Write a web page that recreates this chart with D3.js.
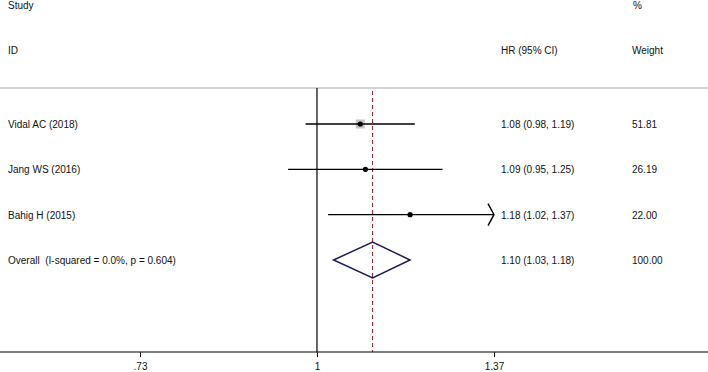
<!DOCTYPE html>
<html>
<head>
<meta charset="utf-8">
<script src="https://cdn.jsdelivr.net/npm/d3@7"></script>
<style>
  body { margin: 0; background: #fff; }
  text { font-family: Arial, "Liberation Sans", sans-serif; font-size: 10px; fill: #111; white-space: pre; }
</style>
</head>
<body>
<div id="chart"></div>
<script>
// study data
var studies = ["Vidal AC (2018)", "Jang WS (2016)", "Bahig H (2015)"];
var hr = [1.08, 1.09, 1.18];
var lower = [0.98, 0.95, 1.02];
var upper = [1.19, 1.25, 1.37];
var weights = ["51.81", "26.19", "22.00"];
var hrLabels = ["1.08 (0.98, 1.19)", "1.09 (0.95, 1.25)", "1.18 (1.02, 1.37)"];

var overallLabel = "Overall  (I-squared = 0.0%, p = 0.604)";
var overall = { est: 1.104, lo: 1.03, hi: 1.18, label: "1.10 (1.03, 1.18)", weight: "100.00" };

var tickValues = [0.73, 1, 1.37];
var tickLabels = [".73", "1", "1.37"];

var W = 708, H = 372;
var svg = d3.select("#chart").append("svg")
  .attr("width", W).attr("height", H);

// log scale, symmetric around 1
var x = d3.scaleLog().domain([0.73, 1.37]).range([140, 494]);
var y = d3.scaleLinear().domain([0, 3]).range([124, 260]);
var axisY = 352, topY = 88;

// header
svg.append("text").attr("x", 8).attr("y", 9).text("Study");
svg.append("text").attr("x", 8).attr("y", 54).text("ID");
svg.append("text").attr("x", 501).attr("y", 54).text("HR (95% CI)");
svg.append("text").attr("x", 633).attr("y", 9).text("%");
svg.append("text").attr("x", 632).attr("y", 54).text("Weight");

svg.append("line")
  .attr("x1", 0).attr("x2", W).attr("y1", topY).attr("y2", topY)
  .style("stroke", "#aaa").style("stroke-width", 1);

// null line
svg.append("line")
  .attr("x1", x(1)).attr("x2", x(1)).attr("y1", topY).attr("y2", axisY)
  .style("stroke", "#000").style("stroke-width", 1.2);

// overall dashed line
svg.append("line")
  .attr("x1", x(overall.est)).attr("x2", x(overall.est)).attr("y1", topY + 3).attr("y2", axisY)
  .style("stroke", "#8b1a2b").style("stroke-width", 1)
  .style("stroke-dasharray", "4,3");

// axis
var axis = svg.append("g")
  .attr("transform", "translate(0," + axisY + ")")
  .call(d3.axisBottom(x).tickValues(tickValues)
    .tickFormat(function (d, i) { return tickLabels[i]; })
    .tickSize(5).tickPadding(6));
axis.select(".domain").remove();
axis.selectAll("line").style("stroke", "#000");
axis.selectAll("text").style("font-size", "10px").style("fill", "#111");
svg.append("line")
  .attr("x1", 0).attr("x2", W).attr("y1", axisY).attr("y2", axisY)
  .style("stroke", "#000").style("stroke-width", 1.2);

// study rows
var xMax = x.domain()[1];
studies.forEach(function (s, i) {
  var yy = y(i);
  svg.append("text").attr("x", 8).attr("y", yy + 4).text(s);
  svg.append("text").attr("x", 501).attr("y", yy + 4).text(hrLabels[i]);
  svg.append("text").attr("x", 632).attr("y", yy + 4).text(weights[i]);

  // weight box (small ones are hidden by the dot)
  var side = 9 * Math.sqrt(+weights[i] / 51.81);
  if (side > 7) {
    svg.append("rect")
      .attr("x", x(hr[i]) - side / 2).attr("y", yy - side / 2)
      .attr("width", side).attr("height", side)
      .style("fill", "#c4c4c4");
  }

  var hiX = x(Math.min(upper[i], xMax));
  svg.append("line")
    .attr("x1", x(lower[i])).attr("x2", hiX).attr("y1", yy).attr("y2", yy)
    .style("stroke", "#000").style("stroke-width", 1.4);

  if (upper[i] >= xMax) {
    svg.append("path")
      .attr("d", "M" + (hiX - 6) + "," + (yy - 11) + "L" + hiX + "," + yy + "L" + (hiX - 6) + "," + (yy + 11))
      .style("fill", "none").style("stroke", "#000").style("stroke-width", 1.4);
  }

  svg.append("circle")
    .attr("cx", x(hr[i])).attr("cy", yy).attr("r", 2.6)
    .style("fill", "#000");
});

// overall diamond
var oy = y(3);
svg.append("text").attr("x", 8).attr("y", oy + 4).text(overallLabel);
svg.append("text").attr("x", 501).attr("y", oy + 4).text(overall.label);
svg.append("text").attr("x", 632).attr("y", oy + 4).text(overall.weight);
svg.append("path")
  .attr("d", "M" + x(overall.lo) + "," + oy +
    "L" + x(overall.est) + "," + (oy - 18) +
    "L" + x(overall.hi) + "," + oy +
    "L" + x(overall.est) + "," + (oy + 18) + "Z")
  .style("fill", "none").style("stroke", "#1c1c5c").style("stroke-width", 1.5);
</script>
</body>
</html>
